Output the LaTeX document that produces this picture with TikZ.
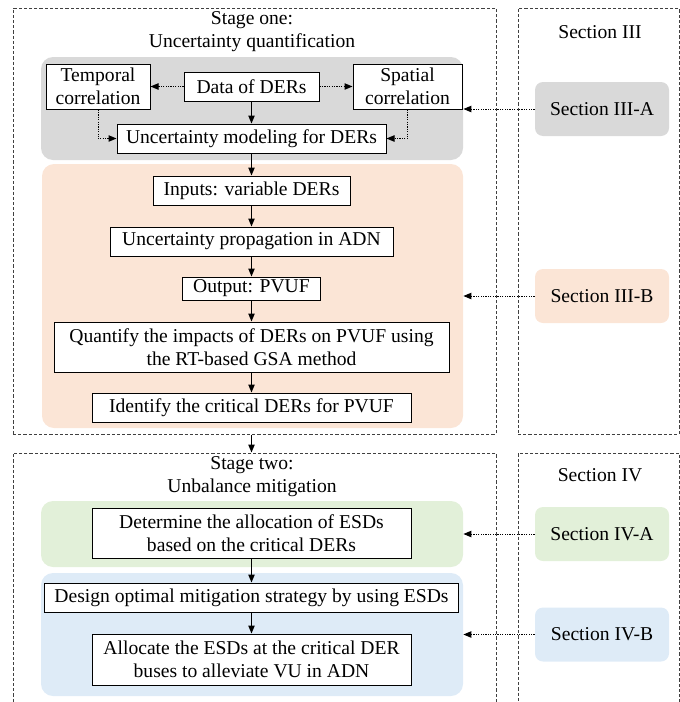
\documentclass[tikz,border=0pt]{standalone}
\usepackage{fontspec}
\setmainfont{Liberation Serif}
\usetikzlibrary{arrows.meta}
\definecolor{pgray}{HTML}{D9D9D9}
\definecolor{porange}{HTML}{FBE5D6}
\definecolor{pgreen}{HTML}{E2F0D9}
\definecolor{pblue}{HTML}{DEEBF7}
\definecolor{dashc}{HTML}{404040}
\begin{document}
\begin{tikzpicture}[x=0.5pt,y=-0.5pt,
  every node/.style={font=\fontsize{9.8}{11.5}\selectfont},
  box/.style={draw=black,line width=0.5pt,fill=white,inner sep=0pt,align=center},
  panel/.style={draw=none,rounded corners=6pt,inner sep=0pt},
  secbox/.style={draw=none,rounded corners=4pt,inner sep=0pt,minimum width=67pt,minimum height=27pt},
  frame/.style={draw=dashc,line width=0.5pt,dash pattern=on 1.6pt off 1pt,inner sep=0pt},
  flow/.style={line width=0.5pt,-{Triangle[length=4pt,width=3.2pt]}},
  dotarrow/.style={line width=0.5pt,dash pattern=on 0.6pt off 0.6pt,-{Triangle[length=4pt,width=3.2pt]}}
]
\useasboundingbox (0,0) rectangle (680,702);
\clip (0,0) rectangle (680,702);

% dashed frames
\node[frame,minimum width=241.5pt,minimum height=213pt] (st1) at (254.5,221) {};
\node[frame,minimum width=80.5pt,minimum height=213pt] (col1) at (598.5,221) {};
\node[frame,minimum width=241.5pt,minimum height=130pt] (st2) at (254.5,583) {};
\node[frame,minimum width=80.5pt,minimum height=130pt] (col2) at (598.5,583) {};

\node[align=center] (t1) at (252,31.5) {Stage one:\\Uncertainty quantification};
\node[align=center] (t2) at (252,476.5) {Stage two:\\Unbalance mitigation};
\node (s3) at (600,32) {Section III};
\node (s4) at (600,475) {Section IV};

% panels
\node[panel,fill=pgray,minimum width=211pt,minimum height=51.5pt] (pg) at (252,108.5) {};
\node[panel,fill=porange,minimum width=210.5pt,minimum height=132pt] (po) at (252.5,296) {};
\node[panel,fill=pgreen,minimum width=211pt,minimum height=33pt] (pgr) at (252,534) {};
\node[panel,fill=pblue,minimum width=211pt,minimum height=61.5pt] (pb) at (252,634.5) {};

% section boxes
\node[secbox,fill=pgray] (s3a) at (602,109) {Section III-A};
\node[secbox,fill=porange] (s3b) at (602,296) {Section III-B};
\node[secbox,fill=pgreen] (s4a) at (602,534) {Section IV-A};
\node[secbox,fill=pblue] (s4b) at (602,634.5) {Section IV-B};

% stage one nodes
\node[box,minimum width=52pt,minimum height=22.5pt] (temp) at (98,86.5) {Temporal\\correlation};
\node[box,minimum width=67.5pt,minimum height=14.5pt] (data) at (251.5,86.5) {Data of DERs};
\node[box,minimum width=54.5pt,minimum height=22.5pt] (spat) at (407.5,86.5) {Spatial\\correlation};
\node[box,minimum width=134.5pt,minimum height=14.5pt] (umod) at (251.5,138.5) {Uncertainty modeling for DERs};
\node[box,minimum width=98.5pt,minimum height=14.5pt] (inp) at (251.5,190.5) {Inputs: variable DERs};
\node[box,minimum width=141.5pt,minimum height=14.5pt] (prop) at (251.5,241.5) {Uncertainty propagation in ADN};
\node[box,minimum width=69pt,minimum height=11.5pt] (outp) at (251.5,288.5) {Output: PVUF};
\node[box,minimum width=197.5pt,minimum height=25pt] (quant) at (251.5,347) {Quantify the impacts of DERs on PVUF using\\the RT-based GSA method};
\node[box,minimum width=159.5pt,minimum height=14.5pt] (ident) at (251.5,407.5) {Identify the critical DERs for PVUF};

% stage two nodes
\node[box,minimum width=159.5pt,minimum height=25pt] (det) at (251.5,533) {Determine the allocation of ESDs\\based on the critical DERs};
\node[box,minimum width=207pt,minimum height=14.5pt] (des) at (251.5,597.5) {Design optimal mitigation strategy by using ESDs};
\node[box,minimum width=159.5pt,minimum height=25.5pt] (alloc) at (251.5,659.5) {Allocate the ESDs at the critical DER\\buses to alleviate VU in ADN};

% dotted arrows inside gray panel
\draw[dotarrow] (data.west) -- (temp.east);
\draw[dotarrow] (data.east) -- (spat.east -| spat.west);
\draw[dotarrow] (temp.south) |- (umod.west);
\draw[dotarrow] (spat.south) |- (umod.east);

% solid flow
\draw[flow] (data) -- (umod);
\draw[flow] (umod) -- (inp);
\draw[flow] (inp) -- (prop);
\draw[flow] (prop) -- (outp);
\draw[flow] (outp) -- (quant);
\draw[flow] (quant) -- (ident);
\draw[flow] (ident.south |- st1.south) -- (ident.south |- st2.north);
\draw[flow] (det) -- (des);
\draw[flow] (des) -- (alloc);

% section arrows
\draw[dotarrow] (s3a.west) -- (s3a.west -| pg.east);
\draw[dotarrow] (s3b.west) -- (s3b.west -| po.east);
\draw[dotarrow] (s4a.west) -- (s4a.west -| pgr.east);
\draw[dotarrow] (s4b.west) -- (s4b.west -| pb.east);
\end{tikzpicture}
\end{document}
